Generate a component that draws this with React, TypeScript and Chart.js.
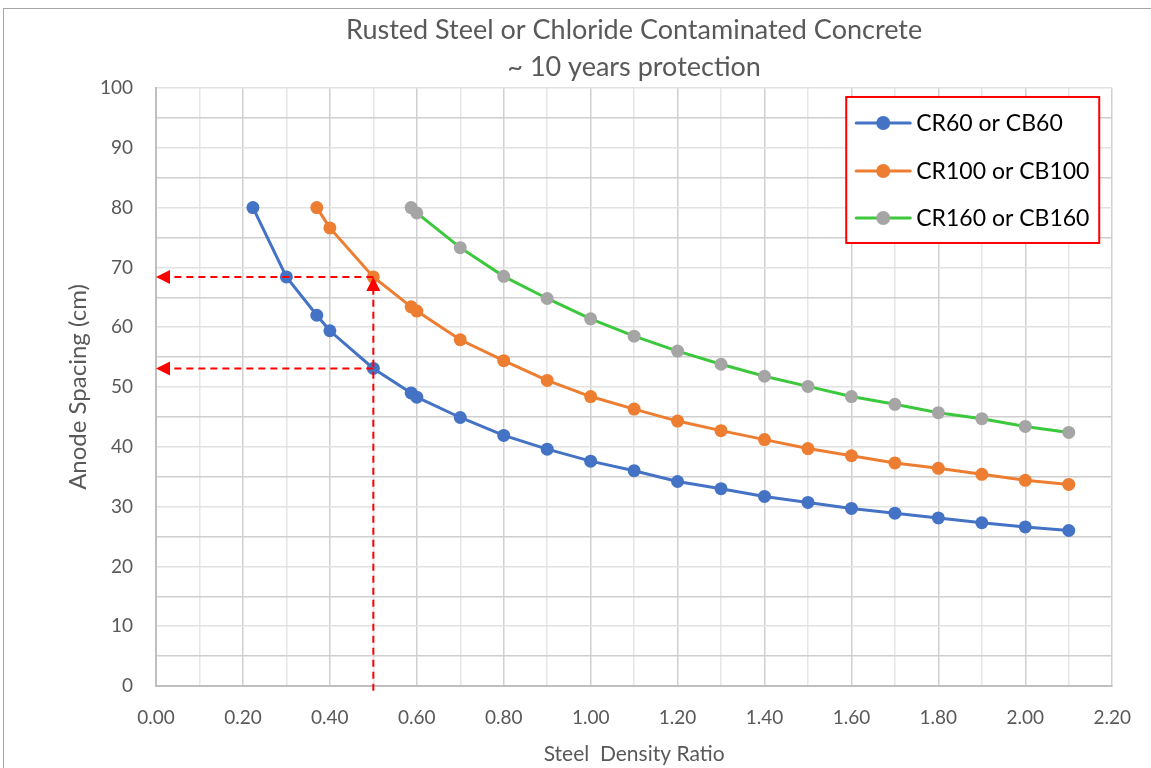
import React, { useEffect, useRef } from "react";
import { Chart, registerables } from "chart.js";

Chart.register(...registerables);

const seriesNames = ["CR60 or CB60", "CR100 or CB100", "CR160 or CB160"];

const xCR60 = [0.223, 0.30, 0.37, 0.40, 0.50, 0.587, 0.60, 0.70, 0.80, 0.90, 1.00, 1.10, 1.20, 1.30, 1.40, 1.50, 1.60, 1.70, 1.80, 1.90, 2.00, 2.10];
const yCR60 = [80, 68.4, 62.0, 59.4, 53.1, 49.0, 48.3, 44.9, 41.9, 39.6, 37.6, 36.0, 34.2, 33.0, 31.7, 30.7, 29.7, 28.9, 28.1, 27.3, 26.6, 26.0];

const xCR100 = [0.37, 0.40, 0.50, 0.587, 0.60, 0.70, 0.80, 0.90, 1.00, 1.10, 1.20, 1.30, 1.40, 1.50, 1.60, 1.70, 1.80, 1.90, 2.00, 2.10];
const yCR100 = [80, 76.6, 68.4, 63.4, 62.7, 57.9, 54.4, 51.1, 48.4, 46.3, 44.3, 42.7, 41.2, 39.7, 38.5, 37.3, 36.4, 35.4, 34.4, 33.7];

const xCR160 = [0.587, 0.60, 0.70, 0.80, 0.90, 1.00, 1.10, 1.20, 1.30, 1.40, 1.50, 1.60, 1.70, 1.80, 1.90, 2.00, 2.10];
const yCR160 = [80, 79.1, 73.3, 68.5, 64.8, 61.4, 58.5, 56.0, 53.8, 51.8, 50.1, 48.4, 47.1, 45.7, 44.7, 43.4, 42.4];

// guide arrows (data units): from -> to (arrowhead at "to")
const arrowFromX = [0.5, 0.5, 0.5];
const arrowFromY = [68.4, 53.1, -0.8];
const arrowToX = [0, 0, 0.5];
const arrowToY = [68.4, 53.1, 68.4];

const titleLines = ["Rusted Steel or Chloride Contaminated Concrete", "~ 10 years protection"];
const xAxisTitle = "Steel  Density Ratio";
const yAxisTitle = "Anode Spacing (cm)";

const lineColors = ["#4472C4", "#ED7D31", "#3CC83C"];
const markerColors = ["#4472C4", "#ED7D31", "#A5A5A5"];

const FONT = "Lato, 'Open Sans', sans-serif";

function pts(xs: number[], ys: number[]) {
  return xs.map((x, i) => ({ x, y: ys[i] }));
}

const overlayPlugin = {
  id: "overlay",
  afterDatasetsDraw(chart: any) {
    const { ctx, chartArea, scales } = chart;
    const xs = scales.x;
    const ys = scales.y;
    ctx.save();
    // arrows
    ctx.strokeStyle = "#FF0000";
    ctx.fillStyle = "#FF0000";
    ctx.lineWidth = 2;
    for (let i = 0; i < arrowFromX.length; i++) {
      const x1 = xs.getPixelForValue(arrowFromX[i]);
      const y1 = ys.getPixelForValue(arrowFromY[i]);
      const x2 = xs.getPixelForValue(arrowToX[i]);
      const y2 = ys.getPixelForValue(arrowToY[i]);
      const ang = Math.atan2(y2 - y1, x2 - x1);
      const len = 14;
      const hw = 7;
      const bx = x2 - Math.cos(ang) * len;
      const by = y2 - Math.sin(ang) * len;
      ctx.setLineDash([7, 5]);
      ctx.beginPath();
      ctx.moveTo(x1, y1);
      ctx.lineTo(bx, by);
      ctx.stroke();
      ctx.setLineDash([]);
      ctx.beginPath();
      ctx.moveTo(x2, y2);
      ctx.lineTo(bx - Math.sin(ang) * hw, by + Math.cos(ang) * hw);
      ctx.lineTo(bx + Math.sin(ang) * hw, by - Math.cos(ang) * hw);
      ctx.closePath();
      ctx.fill();
    }
    // legend box
    const bw = 253;
    const bh = 146;
    const bxl = chartArea.right - 13 - bw;
    const byt = chartArea.top + 9;
    ctx.fillStyle = "#FFFFFF";
    ctx.fillRect(bxl, byt, bw, bh);
    ctx.strokeStyle = "#FF0000";
    ctx.lineWidth = 2;
    ctx.strokeRect(bxl, byt, bw, bh);
    const rowY = [26, 74, 121];
    chart.data.datasets.slice(0, 3).forEach((ds: any, i: number) => {
      const y = byt + rowY[i];
      ctx.strokeStyle = ds.borderColor;
      ctx.lineWidth = 3;
      ctx.lineCap = "round";
      ctx.beginPath();
      ctx.moveTo(bxl + 10, y);
      ctx.lineTo(bxl + 64, y);
      ctx.stroke();
      ctx.fillStyle = ds.pointBackgroundColor;
      ctx.beginPath();
      ctx.arc(bxl + 37, y, 7, 0, Math.PI * 2);
      ctx.fill();
      ctx.fillStyle = "#000000";
      ctx.font = `23px ${FONT}`;
      ctx.textBaseline = "middle";
      ctx.textAlign = "left";
      ctx.fillText(ds.label, bxl + 70, y + 1);
    });
    ctx.restore();
  },
};

export default function App() {
  const ref = useRef<HTMLCanvasElement>(null);
  useEffect(() => {
    if (!ref.current) return;
    const datasets = [
      [xCR60, yCR60],
      [xCR100, yCR100],
      [xCR160, yCR160],
    ].map(([xs, ys], i) => ({
      label: seriesNames[i],
      data: pts(xs, ys),
      borderColor: lineColors[i],
      backgroundColor: markerColors[i],
      pointBackgroundColor: markerColors[i],
      pointBorderColor: markerColors[i],
      pointRadius: 6.5,
      pointBorderWidth: 0,
      borderWidth: 3,
      tension: 0,
      showLine: true,
    }));
    const chart = new Chart(ref.current, {
      type: "scatter",
      data: { datasets },
      plugins: [overlayPlugin],
      options: {
        animation: false,
        responsive: false,
        layout: { padding: { left: 0, right: 37, top: 0, bottom: 0 } },
        plugins: {
          legend: { display: false },
          tooltip: { enabled: false },
          title: {
            display: true,
            fullSize: false,
            text: titleLines,
            color: "#595959",
            font: { family: FONT, size: 27, lineHeight: 1.37, weight: "normal" },
            padding: { top: 12, bottom: 2 },
          },
        },
        scales: {
          x: {
            type: "linear",
            min: 0,
            max: 2.2,
            afterFit: (s: any) => {
              s.height = 82;
            },
            afterBuildTicks: (s: any) => {
              s.ticks = Array.from({ length: 23 }, (_, i) => ({ value: Math.round(i) / 10 }));
            },
            ticks: {
              autoSkip: false,
              maxRotation: 0,
              padding: 20,
              color: "#595959",
              font: { family: FONT, size: 19 },
              callback: (v: any) => {
                const n = Math.round(Number(v) * 10);
                return n % 2 === 0 ? (n / 10).toFixed(2) : "";
              },
            },
            grid: {
              drawTicks: false,
              lineWidth: 1.5,
              color: (c: any) => {
                const n = Math.round(c.tick.value * 10);
                return n % 2 === 0 ? "#D0D0D0" : "#E6E6E6";
              },
            },
            border: { color: "#BFBFBF", width: 2 },
            title: {
              display: true,
              text: xAxisTitle,
              color: "#595959",
              font: { family: FONT, size: 21 },
              padding: { top: 0, bottom: 1 },
            },
          },
          y: {
            type: "linear",
            min: 0,
            max: 100,
            afterFit: (s: any) => {
              s.width = 156;
            },
            ticks: {
              stepSize: 5,
              padding: 23,
              color: "#595959",
              font: { family: FONT, size: 19 },
              callback: (v: any) => (Number(v) % 10 === 0 ? String(v) : ""),
            },
            grid: {
              drawTicks: false,
              lineWidth: 1.5,
              color: (c: any) => (Math.round(c.tick.value) % 10 === 0 ? "#E2E2E2" : "#CFCFCF"),
            },
            border: { color: "#BFBFBF", width: 2 },
            title: {
              display: true,
              text: yAxisTitle,
              color: "#595959",
              font: { family: FONT, size: 24 },
              padding: { top: 64, bottom: 0 },
            },
          },
        },
      },
    } as any);
    return () => chart.destroy();
  }, []);

  return (
    <div style={{ position: "absolute", left: 0, top: 0, width: 1151, height: 768, background: "#FFFFFF", overflow: "hidden" }}>
      <div
        style={{
          position: "absolute",
          left: 3,
          top: 8,
          width: 1160,
          height: 780,
          borderLeft: "1.5px solid #A6A6A6",
          borderTop: "1.5px solid #A6A6A6",
          boxSizing: "border-box",
        }}
      />
      <canvas ref={ref} width={1151} height={768} style={{ position: "absolute", left: 0, top: 0 }} />
    </div>
  );
}
